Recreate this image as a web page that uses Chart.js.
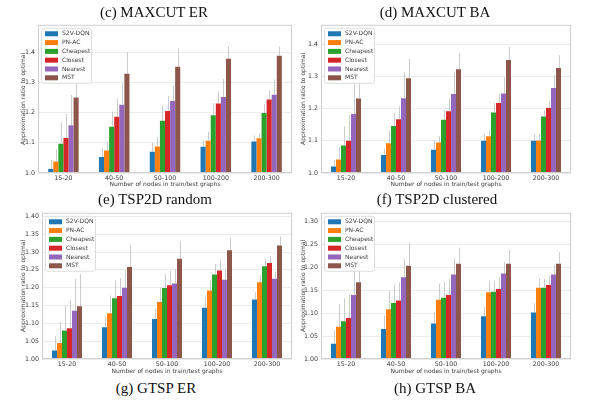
<!DOCTYPE html>
<html>
<head>
<meta charset="utf-8">
<script src="https://cdn.jsdelivr.net/npm/chart.js@4/dist/chart.umd.min.js"></script>
<style>
  body { margin: 0; background: #fff; }
  #wrap { position: relative; width: 600px; height: 406px; overflow: hidden; }
  canvas { position: absolute; }
  .cap {
    position: absolute; font-family: "Liberation Serif", serif; font-size: 15px;
    line-height: 15px; color: #111; white-space: nowrap; transform: translateX(-50%);
  }
</style>
</head>
<body>
<div id="wrap">
  <canvas id="tl" width="300" height="172" style="left:0;top:18px"></canvas>
  <canvas id="tr" width="305" height="172" style="left:295px;top:18px"></canvas>
  <canvas id="bl" width="300" height="172" style="left:0;top:206px"></canvas>
  <canvas id="br" width="305" height="172" style="left:295px;top:206px"></canvas>
  <div class="cap" style="left:154px;top:5px">(c) MAXCUT ER</div>
  <div class="cap" style="left:435px;top:5px">(d) MAXCUT BA</div>
  <div class="cap" style="left:155px;top:192px">(e) TSP2D random</div>
  <div class="cap" style="left:437px;top:192px">(f) TSP2D clustered</div>
  <div class="cap" style="left:156px;top:381px">(g) GTSP ER</div>
  <div class="cap" style="left:435px;top:381px">(h) GTSP BA</div>
</div>
<script>
const groups = ["15-20", "40-50", "50-100", "100-200", "200-300"];
const methods = ["S2V-DQN", "PN-AC", "Cheapest", "Closest", "Nearest", "MST"];
const colors = ["#1f77b4", "#ff7f0e", "#2ca02c", "#d62728", "#9467bd", "#8c564b"];

// rows follow the methods order
const topLeftMeans = [
  [1.013, 1.053, 1.070, 1.087, 1.104],
  [1.038, 1.074, 1.088, 1.107, 1.115],
  [1.097, 1.153, 1.173, 1.191, 1.198],
  [1.116, 1.186, 1.205, 1.230, 1.243],
  [1.158, 1.226, 1.238, 1.251, 1.259],
  [1.250, 1.328, 1.351, 1.378, 1.388]
];
const topLeftErrs = [
  [0.03, 0.03, 0.03, 0.02, 0.02],
  [0.04, 0.03, 0.03, 0.03, 0.015],
  [0.07, 0.05, 0.05, 0.04, 0.03],
  [0.08, 0.06, 0.05, 0.04, 0.03],
  [0.10, 0.07, 0.05, 0.06, 0.05],
  [0.05, 0.07, 0.06, 0.04, 0.03]
];
const topRightMeans = [
  [1.020, 1.056, 1.072, 1.100, 1.100],
  [1.042, 1.092, 1.095, 1.114, 1.101],
  [1.085, 1.146, 1.165, 1.188, 1.175],
  [1.100, 1.167, 1.192, 1.217, 1.202],
  [1.183, 1.232, 1.245, 1.247, 1.264],
  [1.231, 1.294, 1.322, 1.351, 1.326]
];
const topRightErrs = [
  [0.02, 0.02, 0.03, 0.02, 0.02],
  [0.04, 0.04, 0.02, 0.02, 0.02],
  [0.06, 0.04, 0.03, 0.03, 0.02],
  [0.08, 0.04, 0.04, 0.03, 0.02],
  [0.10, 0.08, 0.07, 0.05, 0.04],
  [0.05, 0.06, 0.05, 0.04, 0.04]
];
const bottomLeftMeans = [
  [1.024, 1.089, 1.112, 1.144, 1.167],
  [1.045, 1.128, 1.160, 1.192, 1.215],
  [1.080, 1.170, 1.199, 1.237, 1.260],
  [1.086, 1.177, 1.207, 1.248, 1.269],
  [1.135, 1.200, 1.212, 1.222, 1.225],
  [1.148, 1.258, 1.281, 1.305, 1.318]
];
const bottomLeftErrs = [
  [0.04, 0.03, 0.03, 0.03, 0.02],
  [0.06, 0.05, 0.04, 0.03, 0.02],
  [0.07, 0.05, 0.04, 0.03, 0.02],
  [0.08, 0.05, 0.04, 0.03, 0.02],
  [0.09, 0.05, 0.04, 0.03, 0.02],
  [0.09, 0.06, 0.05, 0.035, 0.025]
];
const bottomRightMeans = [
  [1.033, 1.065, 1.077, 1.093, 1.101],
  [1.070, 1.108, 1.129, 1.145, 1.155],
  [1.082, 1.122, 1.133, 1.146, 1.155],
  [1.089, 1.127, 1.139, 1.152, 1.161],
  [1.139, 1.178, 1.184, 1.186, 1.184],
  [1.167, 1.203, 1.207, 1.207, 1.207]
];
const bottomRightErrs = [
  [0.03, 0.03, 0.025, 0.02, 0.02],
  [0.05, 0.04, 0.035, 0.025, 0.02],
  [0.05, 0.04, 0.035, 0.025, 0.02],
  [0.05, 0.04, 0.035, 0.025, 0.02],
  [0.06, 0.04, 0.035, 0.025, 0.02],
  [0.04, 0.05, 0.035, 0.03, 0.025]
];

const ticksTenth = [1.0, 1.1, 1.2, 1.3, 1.4];
const ticksTwentieth40 = [1.00, 1.05, 1.10, 1.15, 1.20, 1.25, 1.30, 1.35, 1.40];
const ticksTwentieth30 = [1.00, 1.05, 1.10, 1.15, 1.20, 1.25, 1.30];

const font = "'DejaVu Sans', sans-serif";
const textColor = "#3a3a3a";

// frame, error bars and the legend box drawn inside the plot area
const extras = {
  id: "extras",
  afterDatasetsDraw(chart) {
    const { ctx } = chart;
    const yScale = chart.scales.y;
    ctx.save();
    ctx.strokeStyle = "rgba(170,170,170,0.6)";
    ctx.lineWidth = 1;
    chart.data.datasets.forEach((ds, i) => {
      chart.getDatasetMeta(i).data.forEach((bar, j) => {
        const top = yScale.getPixelForValue(ds.data[j] + ds.errs[j]);
        const x = Math.round(bar.x) + 0.5;
        ctx.beginPath();
        ctx.moveTo(x, bar.y);
        ctx.lineTo(x, top);
        ctx.stroke();
      });
    });
    ctx.restore();
  },
  afterDraw(chart) {
    const { ctx, chartArea: a } = chart;
    ctx.save();
    ctx.strokeStyle = "#cfcfcf";
    ctx.lineWidth = 1;
    ctx.strokeRect(a.left + 0.5, a.top + 0.5, a.right - a.left - 1, a.bottom - a.top - 1);

    const bx = a.left + 3, by = a.top + 3, bw = 50, bh = 55;
    ctx.fillStyle = "rgba(255,255,255,0.85)";
    ctx.strokeStyle = "#dddddd";
    ctx.beginPath();
    ctx.roundRect(bx + 0.5, by + 0.5, bw, bh, 2);
    ctx.fill();
    ctx.stroke();

    ctx.font = "6px " + font;
    ctx.textBaseline = "middle";
    chart.data.datasets.forEach((ds, i) => {
      const cy = by + 6 + i * 8.8;
      ctx.fillStyle = ds.backgroundColor;
      ctx.fillRect(bx + 4, cy - 2.5, 13, 5);
      ctx.fillStyle = textColor;
      ctx.fillText(ds.label, bx + 21, cy);
    });
    ctx.restore();
  }
};

function makeChart(id, means, errs, yMax, yTicks, decimals, geo) {
  new Chart(document.getElementById(id), {
    type: "bar",
    data: {
      labels: groups,
      datasets: methods.map((m, i) => ({
        label: m,
        data: means[i],
        errs: errs[i],
        backgroundColor: colors[i],
        borderWidth: 0,
        categoryPercentage: 0.6,
        barPercentage: 1.0
      }))
    },
    options: {
      responsive: false,
      animation: false,
      layout: { padding: { top: geo.top, right: geo.right, left: 0, bottom: 0 } },
      plugins: { legend: { display: false }, tooltip: { enabled: false } },
      scales: {
        x: {
          grid: { display: false, drawTicks: false },
          border: { display: false },
          ticks: { font: { family: font, size: 6.3 }, color: textColor, padding: 2, maxRotation: 0 },
          title: {
            display: true,
            text: "Number of nodes in train/test graphs",
            font: { family: font, size: 6 },
            color: textColor,
            padding: { top: 0, bottom: geo.xTitlePad }
          },
          afterFit: (s) => { s.height = geo.xHeight; }
        },
        y: {
          min: 1.0,
          max: yMax,
          grid: { color: "#ececec", drawTicks: false },
          border: { display: false },
          ticks: {
            font: { family: font, size: 6.3 },
            color: textColor,
            padding: 3,
            callback: (v) => Number(v).toFixed(decimals)
          },
          afterBuildTicks: (s) => { s.ticks = yTicks.map((v) => ({ value: v })); },
          title: {
            display: true,
            text: "Approximation ratio to optimal",
            font: { family: font, size: 6 },
            color: textColor,
            padding: { top: geo.yTitlePad, bottom: 0 }
          },
          afterFit: (s) => { s.width = geo.yWidth; }
        }
      }
    },
    plugins: [extras]
  });
}

makeChart("tl", topLeftMeans, topLeftErrs, 1.49, ticksTenth, 1,
  { top: 4, right: 8, yWidth: 38, xHeight: 17, xTitlePad: 2.4, yTitlePad: 19.4 });
makeChart("tr", topRightMeans, topRightErrs, 1.46, ticksTenth, 1,
  { top: 4, right: 29, yWidth: 26, xHeight: 17, xTitlePad: 2.4, yTitlePad: 4.4 });
makeChart("bl", bottomLeftMeans, bottomLeftErrs, 1.41, ticksTwentieth40, 2,
  { top: 6, right: 8, yWidth: 42, xHeight: 19, xTitlePad: 3.4, yTitlePad: 19.4 });
makeChart("br", bottomRightMeans, bottomRightErrs, 1.318, ticksTwentieth30, 2,
  { top: 6, right: 29, yWidth: 26, xHeight: 19, xTitlePad: 3.4, yTitlePad: 4.4 });
</script>
</body>
</html>
